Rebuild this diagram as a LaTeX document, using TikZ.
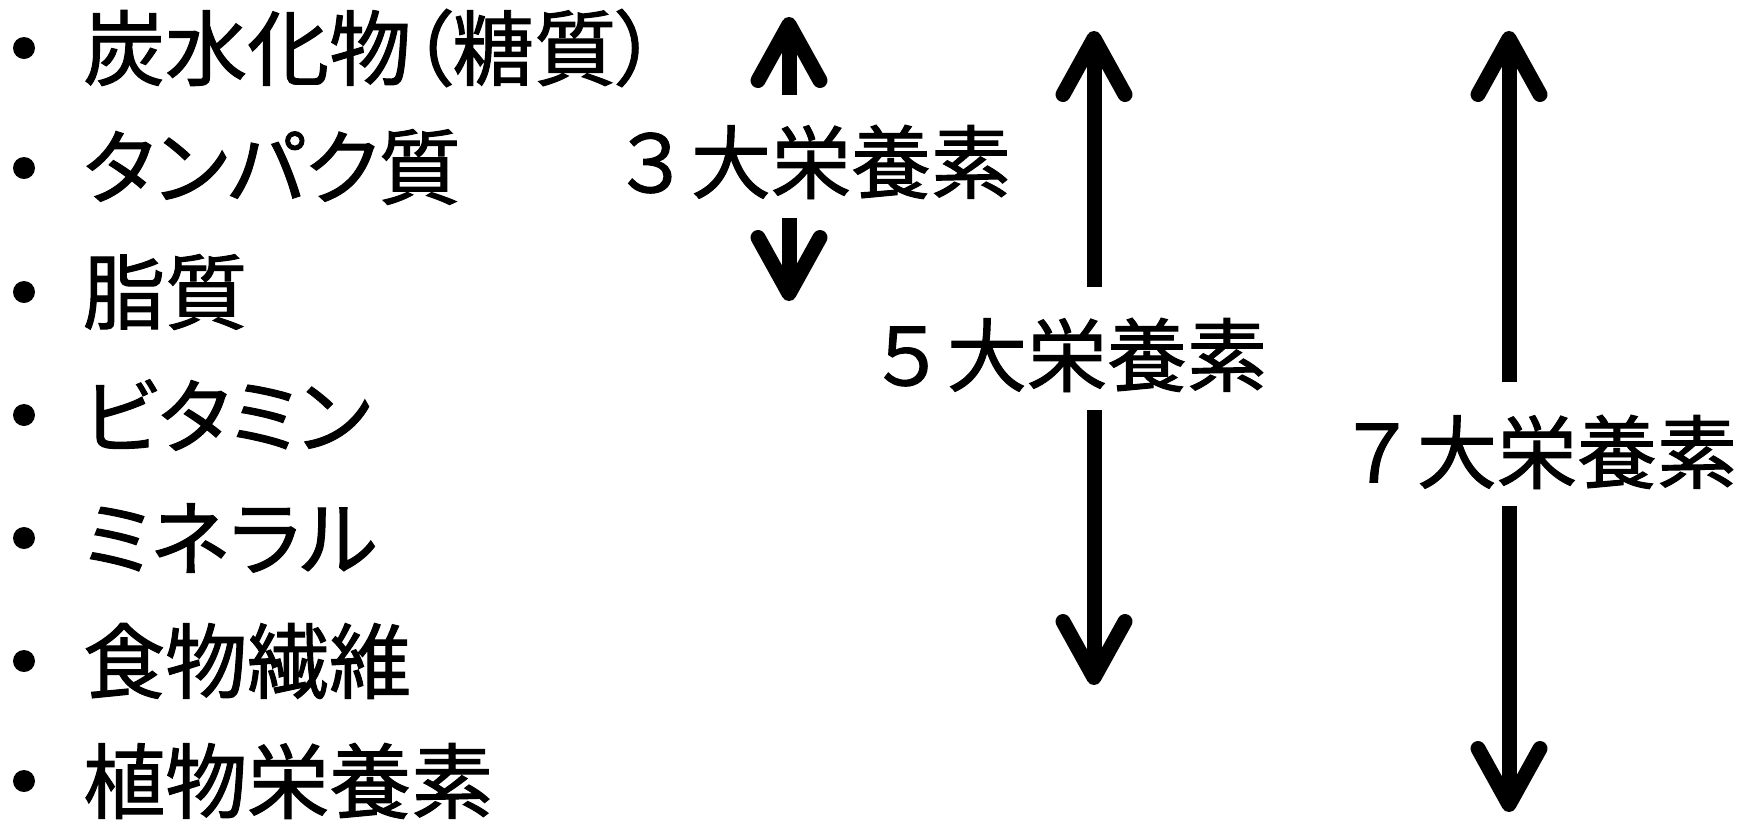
\documentclass[tikz,border=0pt]{standalone}
\usepackage{fontspec}
\newfontfamily\jpp{Noto Sans CJK JP}[RawFeature=+palt,FakeBold=1.2]
\newfontfamily\jpf{Noto Sans CJK JP}[FakeBold=1.2]
\usetikzlibrary{arrows.meta}
\tikzset{
  item/.style={anchor=west, inner sep=0pt, font=\jpp\fontsize{82}{98}\selectfont},
  lab/.style={inner sep=0pt, font=\jpf\fontsize{80}{96}\selectfont},
  dot/.style={circle, fill=black, minimum size=22pt, inner sep=0pt},
  arr/.style={line width=15pt, -{Straight Barb[length=56pt,width=62pt,round]}},
}
\begin{document}
\begin{tikzpicture}[x=1pt,y=-1pt]
\useasboundingbox (0,0) rectangle (1750,823);
\foreach \y [count=\i] in {48,168,292,415,538,661,781} {
  \node[dot] (b\i) at (24,\y) {};
}
\node[item] (t1) at (83,48) {炭水化物（糖質）};
\node[item] (t2) at (83,167) {タンパク質};
\node[item] (t3) at (83,292) {脂質};
\node[item] (t4) at (83,415) {ビタミン};
\node[item] (t5) at (83,538) {ミネラル};
\node[item] (t6) at (83,661) {食物繊維};
\node[item] (t7) at (83,781) {植物栄養素};

\node[lab] (l3) at (811,162) {３大栄養素};
\node[lab] (l5) at (1067,355) {５大栄養素};
\node[lab] (l7) at (1537,452) {７大栄養素};

\coordinate (u3s) at (789,95);  \coordinate (u3e) at (789,17);
\coordinate (d3s) at (789,218); \coordinate (d3e) at (789,301);
\coordinate (u5s) at (1094,287); \coordinate (u5e) at (1094,31);
\coordinate (d5s) at (1094,410); \coordinate (d5e) at (1094,685);
\coordinate (u7s) at (1509,382); \coordinate (u7e) at (1509,31);
\coordinate (d7s) at (1509,506); \coordinate (d7e) at (1509,812);

\draw[arr] (u3s) -- (u3e);
\draw[arr] (d3s) -- (d3e);
\draw[arr] (u5s) -- (u5e);
\draw[arr] (d5s) -- (d5e);
\draw[arr] (u7s) -- (u7e);
\draw[arr] (d7s) -- (d7e);
\end{tikzpicture}
\end{document}
